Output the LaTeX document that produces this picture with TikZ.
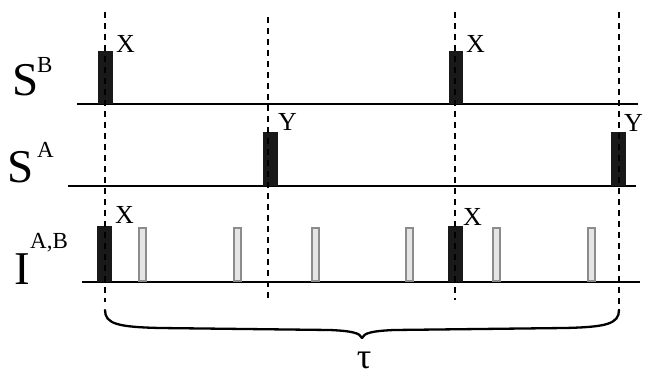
\documentclass[tikz,border=0pt]{standalone}
\usepackage{fontspec}
\setmainfont{Liberation Serif}
\begin{document}
\begin{tikzpicture}[x=1pt,y=-1pt,
  baseline/.style={line width=2.8pt},
  timeline/.style={line width=2.6pt,dash pattern=on 5.5pt off 5.5pt},
  hard/.style={fill=black!90,draw=none},
  soft/.style={fill=black!10,draw=black!45,line width=2pt},
  lbl/.style={inner sep=0pt,anchor=base west,font=\fontsize{26}{26}\selectfont},
  big/.style={inner sep=0pt,anchor=base west,font=\fontsize{47}{47}\selectfont},
  sup/.style={inner sep=0pt,anchor=base west,font=\fontsize{23}{23}\selectfont}]
\useasboundingbox (0,0) rectangle (654,383);
% baselines
\draw[baseline] (77,104) -- (638,104);
\draw[baseline] (68,186) -- (636,186);
\draw[baseline] (82,282) -- (640,282);
% hard pulses
\fill[hard] (98,51) rectangle (113,104);
\fill[hard] (449,51) rectangle (463,104);
\fill[hard] (263,132) rectangle (278,186);
\fill[hard] (611,132) rectangle (626,186);
\fill[hard] (97,226) rectangle (112,282);
\fill[hard] (448,226) rectangle (463,282);
% soft pulses
\foreach \xa in {138,233,311,405,492,587}
  \draw[soft] (\xa+1,228) rectangle (\xa+8,281);
% timelines
\draw[timeline] (105,12) -- (105,302);
\draw[timeline] (268,17) -- (268,300);
\draw[timeline] (455,12) -- (455,300);
\draw[timeline] (619,12) -- (619,312);
% brace
\draw[line width=2.3pt,line cap=round]
  (105,310) .. controls (105,324) and (118,327) .. (160,328)
  -- (330,330) .. controls (352,331) and (360,333) .. (362,338);
\draw[line width=2.3pt,line cap=round]
  (619,310) .. controls (619,324) and (606,327) .. (565,328)
  -- (394,330) .. controls (372,331) and (364,333) .. (362,338);
\node[inner sep=0pt,anchor=base,font=\fontsize{36}{36}\selectfont] (tau) at (364,368) {τ};
% labels
\node[big] (sb) at (12,95) {S};
\node[sup] (sbs) at (37,72) {B};
\node[big] (sa) at (7,182) {S};
\node[sup] (sas) at (37,157) {A};
\node[big] (ia) at (14,284) {I};
\node[sup] (ias) at (30,248) {A,B};
\node[lbl] (x1) at (116,52) {X};
\node[lbl] (x2) at (466,52) {X};
\node[lbl] (y1) at (278,130) {Y};
\node[lbl] (y2) at (624,131) {Y};
\node[lbl] (x3) at (115,223) {X};
\node[lbl] (x4) at (463,225) {X};
\end{tikzpicture}
\end{document}
